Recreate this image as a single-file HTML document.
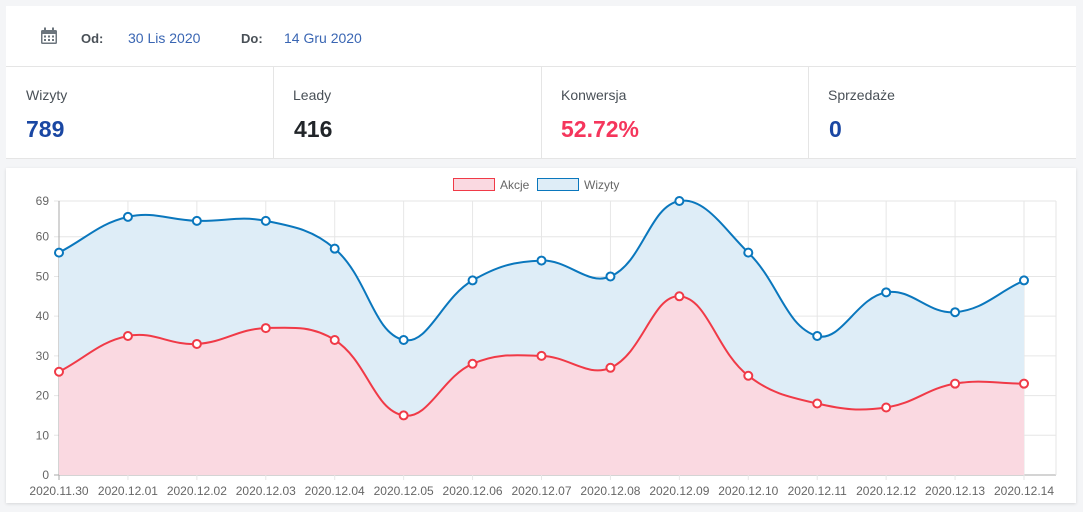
<!DOCTYPE html>
<html><head><meta charset="utf-8"><style>
body{margin:0;width:1083px;height:512px;background:#f4f5f7;font-family:"Liberation Sans",sans-serif;position:relative;overflow:hidden}
.card{position:absolute;background:#fff}
.lbl{position:absolute;font-size:14px;color:#495057}
.val{position:absolute;font-size:23px;font-weight:bold}
</style></head><body>
<div class="card" style="left:6px;top:6px;width:1070px;height:60px;border-bottom:1px solid #e5e5e5"></div>
<svg style="position:absolute;left:40px;top:27px" width="18" height="18" viewBox="0 0 18 18"><rect x="1" y="3" width="16" height="14" rx="1.5" fill="#6c757d"/><rect x="4" y="0.5" width="2" height="4" fill="#6c757d"/><rect x="12" y="0.5" width="2" height="4" fill="#6c757d"/><rect x="2.5" y="7" width="13" height="8.5" fill="#fff"/><g fill="#6c757d"><rect x="4" y="8.5" width="2" height="2"/><rect x="8" y="8.5" width="2" height="2"/><rect x="12" y="8.5" width="2" height="2"/><rect x="4" y="12" width="2" height="2"/><rect x="8" y="12" width="2" height="2"/><rect x="12" y="12" width="2" height="2"/></g></svg>
<div class="lbl" style="left:81px;top:31px;font-weight:bold;font-size:13px">Od:</div>
<div class="lbl" style="left:128px;top:30px;color:#3a66b3">30 Lis 2020</div>
<div class="lbl" style="left:241px;top:31px;font-weight:bold;font-size:13px">Do:</div>
<div class="lbl" style="left:284px;top:30px;color:#3a66b3">14 Gru 2020</div>
<div class="card" style="left:6px;top:67px;width:1070px;height:91px;border-bottom:1px solid #e5e5e5"></div>
<div style="position:absolute;left:273px;top:67px;width:1px;height:91px;background:#e5e5e5"></div>
<div style="position:absolute;left:541px;top:67px;width:1px;height:91px;background:#e5e5e5"></div>
<div style="position:absolute;left:808px;top:67px;width:1px;height:91px;background:#e5e5e5"></div>
<div class="lbl" style="left:26px;top:87px">Wizyty</div>
<div class="val" style="left:26px;top:116px;color:#1a47a3">789</div>
<div class="lbl" style="left:293px;top:87px">Leady</div>
<div class="val" style="left:294px;top:116px;color:#212529">416</div>
<div class="lbl" style="left:561px;top:87px">Konwersja</div>
<div class="val" style="left:561px;top:116px;color:#f5365c">52.72%</div>
<div class="lbl" style="left:828px;top:87px">Sprzedaże</div>
<div class="val" style="left:829px;top:116px;color:#1a47a3">0</div>
<div class="card" style="left:6px;top:168px;width:1070px;height:335px;box-shadow:0 1px 3px rgba(0,0,0,.12)"></div>
<svg id="c" style="position:absolute;left:0;top:0" width="1083" height="512"></svg>
<script>
const W=[56,65,64,64,57,34,49,54,50,69,56,35,46,41,49],A=[26,35,33,37,34,15,28,30,27,45,25,18,17,23,23];
const L=["2020.11.30","2020.12.01","2020.12.02","2020.12.03","2020.12.04","2020.12.05","2020.12.06","2020.12.07","2020.12.08","2020.12.09","2020.12.10","2020.12.11","2020.12.12","2020.12.13","2020.12.14"];
const x0=59,x1=1024,y0=475,yt=201,X=i=>x0+i*(x1-x0)/14,Y=v=>y0-v*(y0-yt)/69;
let s='';
for(let v of [0,10,20,30,40,50,60,69]){s+=`<line x1="54" x2="1056" y1="${Y(v)}" y2="${Y(v)}" stroke="${v?'#e6e6e6':'#aaa'}"/><text x="49" y="${Y(v)+4}" text-anchor="end" font-size="12" fill="#666">${v}</text>`}
for(let i=0;i<15;i++){s+=`<line x1="${X(i)}" x2="${X(i)}" y1="${yt}" y2="480" stroke="${i?'#e6e6e6':'#aaa'}"/><text x="${X(i)}" y="495" text-anchor="middle" font-size="12" fill="#666">${L[i]}</text>`}
s+='<line x1="1056" x2="1056" y1="201" y2="475" stroke="#e6e6e6"/>';
function path(d){const p=d.map((v,i)=>[X(i),Y(v)]);let r=`M${p[0]}`;const t=0.4;const cp=[];
for(let i=0;i<p.length;i++){const a=p[i-1]||p[i],b=p[i],c=p[i+1]||p[i];const d01=Math.hypot(b[0]-a[0],b[1]-a[1]),d12=Math.hypot(c[0]-b[0],c[1]-b[1]);let s01=d01/(d01+d12)||0,s12=d12/(d01+d12)||0;const f1=t*s01,f2=t*s12;cp.push([[b[0]-f1*(c[0]-a[0]),b[1]-f1*(c[1]-a[1])],[b[0]+f2*(c[0]-a[0]),b[1]+f2*(c[1]-a[1])]]);}
for(let i=1;i<p.length;i++){r+=` C${cp[i-1][1]} ${cp[i][0]} ${p[i]}`}return r}
const pw=path(W),pa=path(A);
s+=`<path d="${pw} L${X(14)},${y0} L${X(0)},${y0}Z" fill="#deedf7"/><path d="${pa} L${X(14)},${y0} L${X(0)},${y0}Z" fill="#fad9e1"/>`;
s+=`<path d="${pw}" fill="none" stroke="#0a77bd" stroke-width="2"/><path d="${pa}" fill="none" stroke="#f03a47" stroke-width="2"/>`;
W.forEach((v,i)=>s+=`<circle cx="${X(i)}" cy="${Y(v)}" r="4" fill="#fff" stroke="#0a77bd" stroke-width="2"/>`);
A.forEach((v,i)=>s+=`<circle cx="${X(i)}" cy="${Y(v)}" r="4" fill="#fff" stroke="#f03a47" stroke-width="2"/>`);
s+=`<rect x="453.5" y="178.5" width="41" height="12" fill="#fad9e1" stroke="#f03a47"/><text x="500" y="189" font-size="12" fill="#666">Akcje</text><rect x="537.5" y="178.5" width="41" height="12" fill="#deedf7" stroke="#0a77bd"/><text x="584" y="189" font-size="12" fill="#666">Wizyty</text>`;
document.getElementById('c').innerHTML=s;
</script>
</body></html>
